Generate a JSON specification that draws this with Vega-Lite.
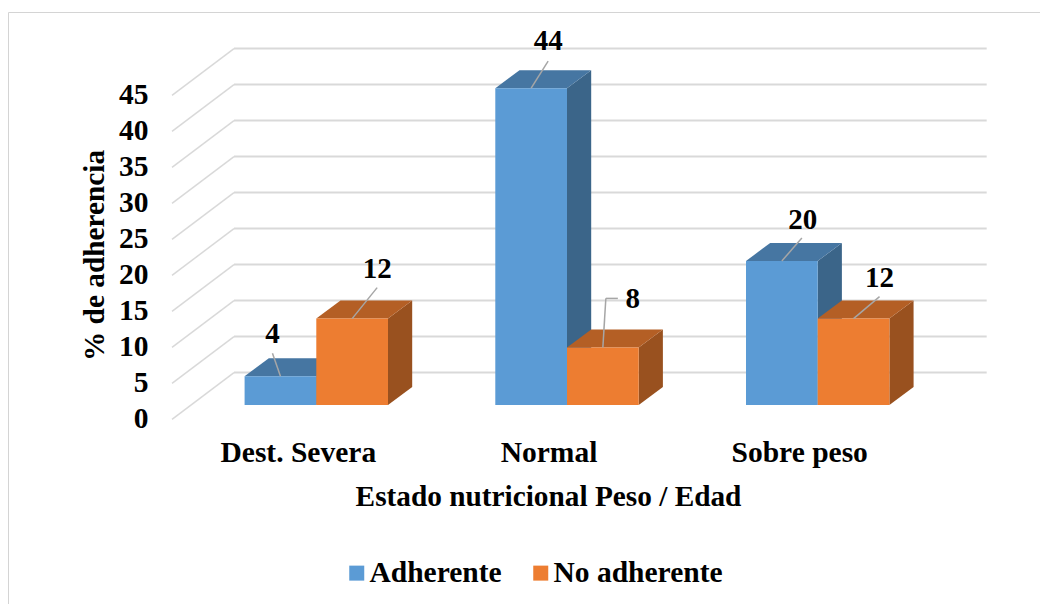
{
"$schema":"https://vega.github.io/schema/vega-lite/v6.json",
"width":1032,"height":592,"autosize":"none",
"padding":{"left":8,"top":12,"right":0,"bottom":0},
"background":"white",
"view":{"stroke":"#d4d4d4","strokeWidth":1,"fill":"white"},
"config":{"font":"Liberation Serif",
 "axis":{"labelFont":"Liberation Serif","titleFont":"Liberation Serif","labelFontWeight":"bold","titleFontWeight":"bold","labelColor":"#000","titleColor":"#000","grid":false,"domain":false,"ticks":false},
 "legend":{"labelFont":"Liberation Serif","labelFontWeight":"bold","labelColor":"#000"}},
"datasets":{
 "barras":[
  {"estado":"Dest. Severa","serie":"Adherente","valor":4},
  {"estado":"Dest. Severa","serie":"No adherente","valor":12},
  {"estado":"Normal","serie":"Adherente","valor":44},
  {"estado":"Normal","serie":"No adherente","valor":8},
  {"estado":"Sobre peso","serie":"Adherente","valor":20},
  {"estado":"Sobre peso","serie":"No adherente","valor":12}],
 "rejilla":[{"v":0},{"v":5},{"v":10},{"v":15},{"v":20},{"v":25},{"v":30},{"v":35},{"v":40},{"v":45}]
},
"layer":[
 {"data":{"name":"rejilla"},
  "transform":[{"calculate":"datum.v+4.5","as":"pared"},{"calculate":"-0.3283","as":"xa"},{"calculate":"2.674","as":"xb"}],
  "mark":{"type":"rule","color":"#d9d9d9","strokeWidth":2},
  "encoding":{
   "x":{"field":"xa","type":"quantitative","scale":{"domain":[-1.22976,2.88672],"nice":false,"zero":false},
     "axis":{"title":"Estado nutricional Peso / Edad","orient":"bottom","offset":-152,"values":[0,1,2],
      "labelExpr":"['Dest. Severa','Normal','Sobre peso'][datum.value]","labelOffset":-18.5,"labelFontSize":29.5,"labelBaseline":"middle","labelPadding":0,"labelFlush":false,"labelOverlap":false,"labelSeparation":0,
      "titleFontSize":29.3,"titleX":540,"titleY":44,"titleBaseline":"middle","titleAlign":"center"}},
   "x2":{"field":"xb"},
   "y":{"field":"pared","type":"quantitative","scale":{"domain":[-27.639,54.583],"nice":false,"zero":false},
     "axis":{"title":"% de adherencia","orient":"left","offset":-140,"values":[0,5,10,15,20,25,30,35,40,45],"labelOffset":13.8,"labelFontSize":29.5,"labelPadding":0,"labelAlign":"right","labelBaseline":"middle","labelOverlap":false,"labelFlush":false,
      "titleFontSize":29.3,"titleX":-54,"titleY":243,"titleBaseline":"middle","titleAlign":"center","titleAngle":-90}}
  }},
 {"data":{"name":"rejilla"},
  "transform":[{"calculate":"datum.v+4.5","as":"pared"},{"calculate":"datum.v-2","as":"frente"},{"calculate":"-0.5756","as":"xa"},{"calculate":"-0.3283","as":"xb"}],
  "mark":{"type":"rule","color":"#d9d9d9","strokeWidth":1.5},
  "encoding":{"x":{"field":"xa","type":"quantitative"},"x2":{"field":"xb"},"y":{"field":"frente","type":"quantitative"},"y2":{"field":"pared"}}},
 {"data":{"name":"barras"},
  "transform":[
   {"calculate":"indexof(['Dest. Severa','Normal','Sobre peso'],datum.estado)+(datum.serie==='Adherente'?-0.286:0)+0.286","as":"xr"},
   {"calculate":"[0,1]","as":"t"},{"flatten":["t"]},
   {"calculate":"datum.xr+datum.t*0.0965","as":"xs"},
   {"calculate":"datum.valor+datum.t*2.5","as":"ya"},
   {"calculate":"datum.t*2.5","as":"yb"}],
  "mark":{"type":"area","orient":"vertical"},
  "encoding":{"x":{"field":"xs","type":"quantitative"},
   "y":{"field":"ya","type":"quantitative","stack":null},"y2":{"field":"yb"},
   "detail":{"field":"xr"},
   "fill":{"condition":{"test":"datum.serie==='Adherente'","value":"#3b6589"},"value":"#99511f"}}},
 {"data":{"name":"barras"},
  "transform":[
   {"calculate":"indexof(['Dest. Severa','Normal','Sobre peso'],datum.estado)+(datum.serie==='Adherente'?-0.286:0)","as":"xl"},
   {"calculate":"[0,1]","as":"t"},{"flatten":["t"]},
   {"calculate":"datum.xl+datum.t*0.0965","as":"xs"},
   {"calculate":"datum.xs+0.286","as":"xe"},
   {"calculate":"datum.valor+datum.t*2.5","as":"ya"}],
  "mark":{"type":"area","orient":"horizontal"},
  "encoding":{"y":{"field":"ya","type":"quantitative"},
   "x":{"field":"xs","type":"quantitative","stack":null},"x2":{"field":"xe"},
   "detail":{"field":"xl"},
   "fill":{"condition":{"test":"datum.serie==='Adherente'","value":"#4676a2"},"value":"#b45f25"}}},
 {"data":{"name":"barras"},
  "transform":[
   {"calculate":"indexof(['Dest. Severa','Normal','Sobre peso'],datum.estado)+(datum.serie==='Adherente'?-0.286:0)","as":"xl"},
   {"calculate":"datum.xl+0.286","as":"xr"}],
  "mark":{"type":"rect"},
  "encoding":{"x":{"field":"xl","type":"quantitative"},"x2":{"field":"xr"},
   "y":{"field":"valor","type":"quantitative"},"y2":{"datum":0},
   "color":{"field":"serie","type":"nominal","scale":{"domain":["Adherente","No adherente"],"range":["#5b9bd5","#ed7d31"]},
    "legend":{"title":null,"orient":"none","direction":"horizontal","legendX":334,"legendY":546,"symbolType":"square","symbolSize":225,"symbolStrokeWidth":0,"labelFontSize":29.5,"labelOffset":-2,"labelLimit":400,"columnPadding":24,"padding":0,"columns":2}}}},
 {"data":{"name":"barras"},
  "transform":[
   {"calculate":"datum.estado+'|'+datum.serie","as":"k"},
   {"calculate":"indexof(['Dest. Severa','Normal','Sobre peso'],datum.estado)+(datum.serie==='Adherente'?-0.143:0.143)","as":"xm"},
   {"calculate":"{'Dest. Severa|Adherente':[-8,23],'Dest. Severa|No adherente':[25,31],'Normal|Adherente':[17,27],'Normal|No adherente':[3,49],'Sobre peso|Adherente':[20,23],'Sobre peso|No adherente':[26,22]}[datum.k]","as":"o"},
   {"calculate":"datum.xm+datum.o[0]/250.7","as":"ex"},
   {"calculate":"datum.valor+datum.o[1]/7.2","as":"ey"}],
  "mark":{"type":"rule","color":"#a6a6a6","strokeWidth":1.5},
  "encoding":{"x":{"field":"xm","type":"quantitative"},"x2":{"field":"ex"},
   "y":{"field":"valor","type":"quantitative"},"y2":{"field":"ey"}}},
 {"data":{"name":"barras"},
  "transform":[
   {"filter":"datum.estado==='Normal'&&datum.serie==='No adherente'"},
   {"calculate":"1+0.143+3/250.7","as":"ex"},
   {"calculate":"datum.ex+12/250.7","as":"fx"},
   {"calculate":"datum.valor+49/7.2","as":"ey"}],
  "mark":{"type":"rule","color":"#a6a6a6","strokeWidth":1.5},
  "encoding":{"x":{"field":"ex","type":"quantitative"},"x2":{"field":"fx"},
   "y":{"field":"ey","type":"quantitative"}}},
 {"data":{"name":"barras"},
  "transform":[
   {"calculate":"datum.estado+'|'+datum.serie","as":"k"},
   {"calculate":"indexof(['Dest. Severa','Normal','Sobre peso'],datum.estado)+(datum.serie==='Adherente'?-0.143:0.143)","as":"xm"},
   {"calculate":"{'Dest. Severa|Adherente':[-8,42],'Dest. Severa|No adherente':[25,50],'Normal|Adherente':[17,47],'Normal|No adherente':[30,48],'Sobre peso|Adherente':[21,41],'Sobre peso|No adherente':[26,41]}[datum.k]","as":"o"},
   {"calculate":"datum.xm+datum.o[0]/250.7","as":"tx"},
   {"calculate":"datum.valor+datum.o[1]/7.2","as":"ty"}],
  "mark":{"type":"text","font":"Liberation Serif","fontWeight":"bold","fontSize":29,"color":"#000","baseline":"middle","align":"center"},
  "encoding":{"x":{"field":"tx","type":"quantitative"},"y":{"field":"ty","type":"quantitative"},"text":{"field":"valor","type":"quantitative"}}}
]
}
